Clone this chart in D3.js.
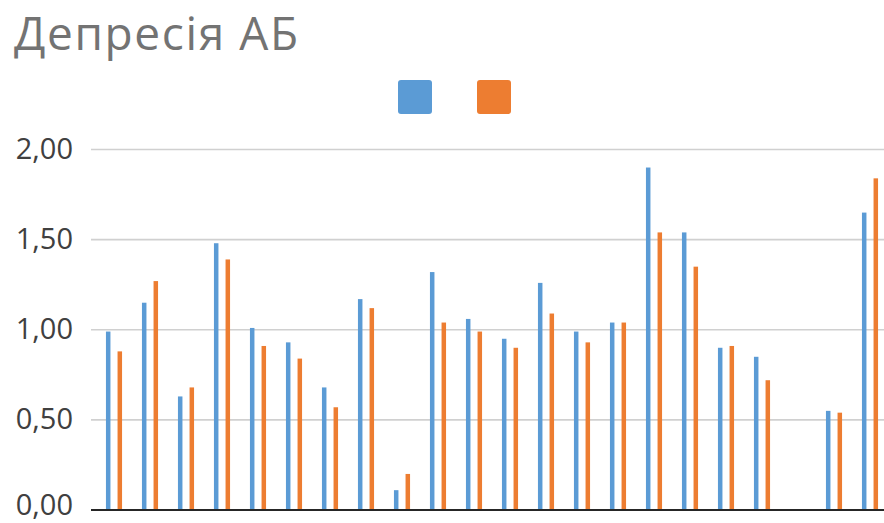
<!DOCTYPE html>
<html>
<head>
<meta charset="utf-8">
<script src="https://cdn.jsdelivr.net/npm/d3@7/dist/d3.min.js"></script>
<style>
  html, body { margin: 0; padding: 0; background: #fff; }
  svg { display: block; }
  text { font-family: "Open Sans", "Noto Sans", sans-serif; }
</style>
</head>
<body>
<svg id="chart" width="884" height="523"></svg>
<script>
const title = "Депресія АБ";
const categories = d3.range(1, 23).map(String);
const seriesNames = ["Ряд 1", "Ряд 2"];
const seriesColors = ["#5B9BD5", "#ED7D31"];
const series1 = [0.99, 1.15, 0.63, 1.48, 1.01, 0.93, 0.68, 1.17, 0.11, 1.32, 1.06, 0.95, 1.26, 0.99, 1.04, 1.90, 1.54, 0.90, 0.85, null, 0.55, 1.65];
const series2 = [0.88, 1.27, 0.68, 1.39, 0.91, 0.84, 0.57, 1.12, 0.20, 1.04, 0.99, 0.90, 1.09, 0.93, 1.04, 1.54, 1.35, 0.91, 0.72, null, 0.54, 1.84];
const yTicks = [0, 0.5, 1, 1.5, 2];

const svg = d3.select("#chart");
const plotLeft = 91, plotRight = 884;

const x = d3.scaleBand().domain(categories).range([96, 888]).padding(0);
const xs = d3.scalePoint().domain(seriesNames).range([-5.8, 5.8]);
const y = d3.scaleLinear().domain([0, 2]).range([510, 149.5]);
const fmt = v => d3.format(".2f")(v).replace(".", ",");

// title
svg.append("text")
  .attr("x", 14).attr("y", 50)
  .attr("font-size", 46)
  .attr("letter-spacing", 1.6)
  .attr("fill", "#737373")
  .text(title);

// legend
const leg = svg.append("g");
seriesNames.forEach((s, i) => {
  leg.append("rect")
    .attr("x", 398 + i * 79).attr("y", 80)
    .attr("width", 34).attr("height", 34)
    .attr("rx", 3)
    .attr("fill", seriesColors[i]);
});

// gridlines
svg.append("g").selectAll("line")
  .data(yTicks.filter(d => d > 0))
  .join("line")
  .attr("x1", plotLeft).attr("x2", plotRight)
  .attr("y1", d => y(d)).attr("y2", d => y(d))
  .attr("stroke", "#d0d0d0").attr("stroke-width", 1.6);

// y axis labels
const yAxis = d3.axisLeft(y).tickValues(yTicks).tickFormat(fmt).tickSize(0).tickPadding(0);
const ga = svg.append("g").attr("transform", `translate(73,0)`).call(yAxis);
ga.select(".domain").remove();
ga.selectAll("text")
  .attr("font-size", 29)
  .attr("fill", "#404040")
  .attr("font-family", "'Open Sans', sans-serif")
  .attr("dy", d => d === 0 ? "0.14em" : "0.3em");

// bars
const data = [series1, series2];
data.forEach((vals, si) => {
  svg.append("g").selectAll("rect")
    .data(vals.map((v, i) => ({ c: categories[i], v })).filter(d => d.v != null))
    .join("rect")
    .attr("x", d => x(d.c) + x.bandwidth() / 2 + xs(seriesNames[si]) - 2.25)
    .attr("width", 4.5)
    .attr("y", d => y(d.v))
    .attr("height", d => y(0) - y(d.v))
    .attr("fill", seriesColors[si]);
});

// x axis line
svg.append("line")
  .attr("x1", plotLeft).attr("x2", plotRight)
  .attr("y1", y(0)).attr("y2", y(0))
  .attr("stroke", "#262626").attr("stroke-width", 2.2);
</script>
</body>
</html>
